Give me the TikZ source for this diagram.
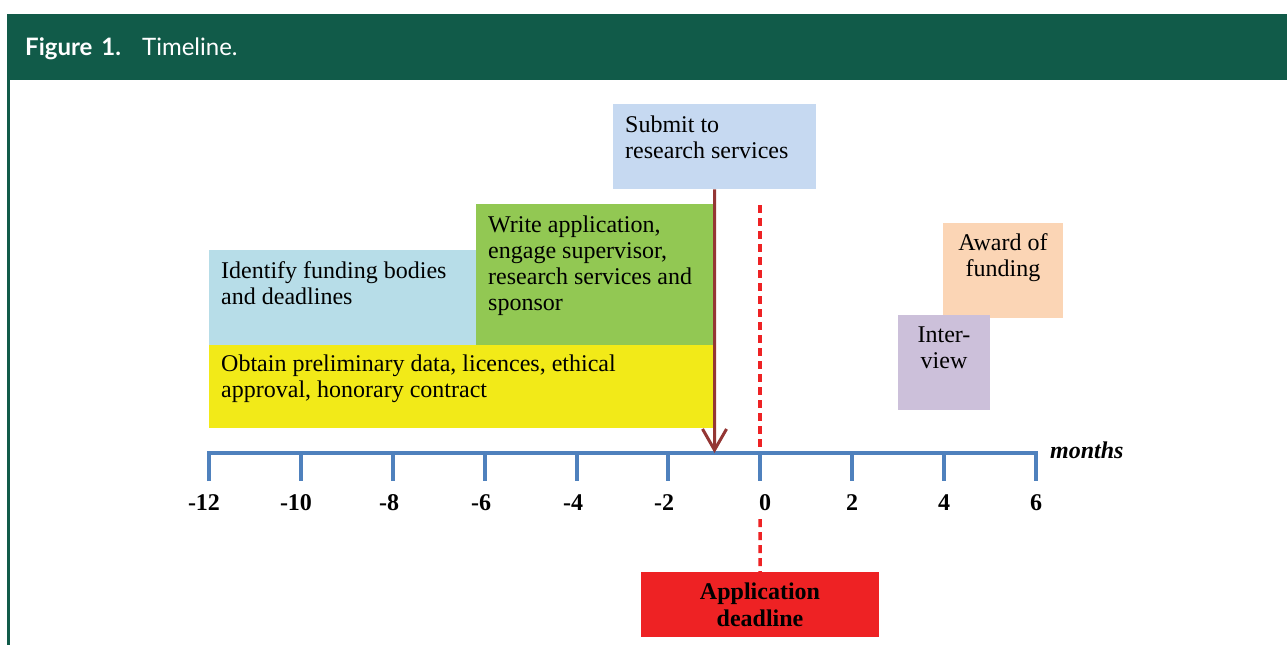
\documentclass[tikz,border=0pt]{standalone}
\usepackage{fontspec}
\setmainfont{Liberation Serif}
\newfontfamily\headfont{Lato}
\usetikzlibrary{arrows.meta}

\definecolor{headgreen}{HTML}{115B49}
\definecolor{axisblue}{HTML}{4F81BD}
\definecolor{duebrown}{HTML}{943634}
\definecolor{deadred}{HTML}{EE2224}
\definecolor{identc}{HTML}{B7DDE8}
\definecolor{writec}{HTML}{92C853}
\definecolor{obtainc}{HTML}{F2EA18}
\definecolor{submitc}{HTML}{C6D9F1}
\definecolor{awardc}{HTML}{FBD5B5}
\definecolor{interc}{HTML}{CCC0DA}

\tikzset{
  panel/.style={fill=#1, draw=none, inner sep=0pt, anchor=north west},
  lbl/.style={font=\fontsize{24}{26}\selectfont, inner sep=0pt, align=left, anchor=north west},
  clbl/.style={font=\fontsize{24}{26}\selectfont, inner sep=0pt, align=center, anchor=north},
  ticklbl/.style={font=\fontsize{24}{26}\selectfont\bfseries, inner sep=0pt, anchor=base},
  axisline/.style={draw=axisblue, line width=4.5pt},
  duearrow/.style={draw=duebrown, line width=3pt, -{Straight Barb[length=21pt,width=24pt,line width=3pt]}},
  deadline/.style={draw=deadred, line width=3.5pt, dash pattern=on 8pt off 5pt},
  captext/.style={inner sep=0pt, anchor=base west, text=white, font=\headfont\fontsize{24}{28}\selectfont},
}

\begin{document}
\begin{tikzpicture}[x=1pt,y=-1pt]
\useasboundingbox (0,0) rectangle (1287,645);
\fill[white] (0,0) rectangle (1287,645);

% caption banner and frame
\fill[headgreen] (7,14) rectangle (1287,80);
\fill[headgreen] (7,80) rectangle (9.5,645);
\node[captext] (cap-fig) at (25,55) {\textbf{Figure\hspace{9pt}1.}};
\node[captext] (cap-title) at (142,55) {Timeline.};

% activity panels
\node[panel=identc, minimum width=267pt, minimum height=95pt] (ident) at (209,250) {};
\node[panel=writec, minimum width=238pt, minimum height=141pt] (write) at (476,204) {};
\node[panel=obtainc, minimum width=505pt, minimum height=83pt] (obtain) at (209,345) {};
\node[panel=submitc, minimum width=203pt, minimum height=85pt] (submit) at (613,104) {};
\node[panel=awardc, minimum width=120pt, minimum height=95pt] (award) at (943,223) {};
\node[panel=interc, minimum width=92pt, minimum height=95pt] (inter) at (898,315) {};
\node[panel=deadred, minimum width=238pt, minimum height=65pt] (dl) at (641,572) {};

% panel texts
\node[lbl] (submit-t) at (625,113.8) {\strut Submit to\\research services};
\node[lbl] (ident-t) at (221,259.8) {\strut Identify funding bodies\\and deadlines};
\node[lbl] (write-t) at (488,213.8) {\strut Write application,\\engage supervisor,\\research services and\\sponsor};
\node[lbl] (obtain-t) at (221,352.8) {\strut Obtain preliminary data, licences, ethical\\approval, honorary contract};
\node[clbl] (award-t) at (1003,232.5) {\strut Award of\\funding};
\node[clbl] (inter-t) at (944,324.5) {\strut Inter-\\view};
\node[clbl, font=\fontsize{24}{27}\selectfont\bfseries] (dl-t) at (760,580.8) {\strut Application\\deadline};

% time axis
\coordinate (ztop) at (760,205);
\coordinate (zaxis) at (760,453);
\coordinate (zlow) at (760,519);
\coordinate (due) at (714.5,453);
\draw[deadline] (ztop) -- (zaxis);
\draw[deadline] (zlow) -- (dl.north);
\draw[axisline] (209,481) -- (209,453) -- (1036,453) -- (1036,481);
\foreach \m/\x in {-10/301,-8/393,-6/485,-4/577,-2/668,0/760,2/852,4/944}
  \draw[axisline] (\x,453) -- (\x,481);
\foreach \m/\x in {-12/204,-10/296,-8/389,-6/481,-4/573,-2/664}
  \node[ticklbl] (tick\m) at (\x,510) {-\the\numexpr-\m\relax};
\foreach \m/\x in {0/765,2/852,4/944,6/1036}
  \node[ticklbl] (tick\m) at (\x,510) {\m};
\node[inner sep=0pt, anchor=base west, font=\fontsize{24}{26}\selectfont\bfseries\itshape] (months) at (1050,458) {months};

% submission arrow
\draw[duearrow] (submit.south) -- (due);
\end{tikzpicture}
\end{document}
